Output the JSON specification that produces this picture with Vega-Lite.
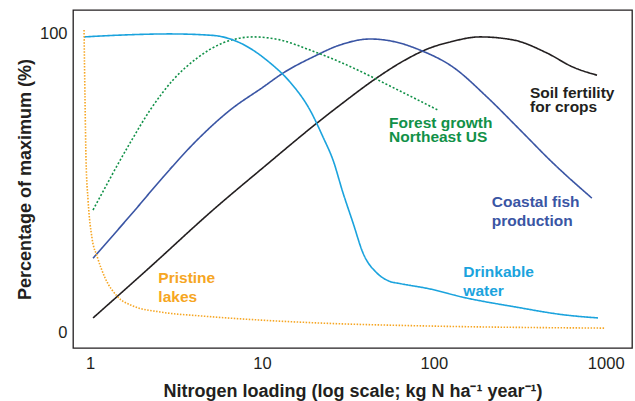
{
  "$schema": "https://vega.github.io/schema/vega-lite/v6.json",
  "width": 559,
  "height": 338,
  "autosize": "none",
  "padding": {"left": 73, "top": 10, "right": 3, "bottom": 53},
  "background": "white",
  "config": {
    "view": {"stroke": "#231f20", "strokeWidth": 1.3},
    "axis": {
      "domain": false, "ticks": false, "grid": false,
      "labelFont": "Liberation Sans", "labelFontSize": 16.5, "labelColor": "#231f20",
      "titleFont": "Liberation Sans", "titleFontSize": 18, "titleFontWeight": "bold", "titleColor": "#231f20"
    }
  },
  "datasets": {
    "curves": [
      {"series": "soil", "x": 1.041, "y": 4.7},
      {"series": "soil", "x": 2.234, "y": 21.7},
      {"series": "soil", "x": 5.19, "y": 40.8},
      {"series": "soil", "x": 10.42, "y": 55.5},
      {"series": "soil", "x": 20.92, "y": 69.9},
      {"series": "soil", "x": 28.47, "y": 75.9},
      {"series": "soil", "x": 47.4, "y": 85.3},
      {"series": "soil", "x": 63.6, "y": 90.0},
      {"series": "soil", "x": 95.0, "y": 95.0},
      {"series": "soil", "x": 124.3, "y": 97.0},
      {"series": "soil", "x": 185.7, "y": 98.7},
      {"series": "soil", "x": 288.8, "y": 97.7},
      {"series": "soil", "x": 455.5, "y": 93.3},
      {"series": "soil", "x": 645.3, "y": 88.6},
      {"series": "soil", "x": 890.0, "y": 85.9},

      {"series": "fish", "x": 1.041, "y": 24.7},
      {"series": "fish", "x": 1.827, "y": 40.8},
      {"series": "fish", "x": 2.659, "y": 51.8},
      {"series": "fish", "x": 4.194, "y": 64.2},
      {"series": "fish", "x": 6.52, "y": 74.2},
      {"series": "fish", "x": 10.15, "y": 81.9},
      {"series": "fish", "x": 13.27, "y": 86.6},
      {"series": "fish", "x": 19.83, "y": 92.0},
      {"series": "fish", "x": 28.47, "y": 96.0},
      {"series": "fish", "x": 42.6, "y": 98.0},
      {"series": "fish", "x": 60.0, "y": 97.0},
      {"series": "fish", "x": 83.1, "y": 94.3},
      {"series": "fish", "x": 129.3, "y": 88.6},
      {"series": "fish", "x": 203.9, "y": 78.6},
      {"series": "fish", "x": 317.3, "y": 67.6},
      {"series": "fish", "x": 493.7, "y": 56.5},
      {"series": "fish", "x": 830.0, "y": 44.8},

      {"series": "forest", "x": 1.041, "y": 40.8},
      {"series": "forest", "x": 1.708, "y": 63.2},
      {"series": "forest", "x": 2.234, "y": 74.2},
      {"series": "forest", "x": 3.04, "y": 84.3},
      {"series": "forest", "x": 4.194, "y": 91.6},
      {"series": "forest", "x": 5.94, "y": 96.7},
      {"series": "forest", "x": 8.88, "y": 98.7},
      {"series": "forest", "x": 12.74, "y": 97.7},
      {"series": "forest", "x": 19.05, "y": 94.3},
      {"series": "forest", "x": 28.47, "y": 90.3},
      {"series": "forest", "x": 63.6, "y": 80.6},
      {"series": "forest", "x": 105.8, "y": 74.2},

      {"series": "water", "x": 0.923, "y": 98.7},
      {"series": "water", "x": 1.494, "y": 99.3},
      {"series": "water", "x": 2.92, "y": 99.7},
      {"series": "water", "x": 5.19, "y": 99.2},
      {"series": "water", "x": 7.46, "y": 96.7},
      {"series": "water", "x": 11.15, "y": 90.0},
      {"series": "water", "x": 14.57, "y": 83.6},
      {"series": "water", "x": 19.05, "y": 74.2},
      {"series": "water", "x": 22.67, "y": 65.2},
      {"series": "water", "x": 25.92, "y": 57.5},
      {"series": "water", "x": 29.64, "y": 46.5},
      {"series": "water", "x": 33.88, "y": 36.5},
      {"series": "water", "x": 38.74, "y": 26.4},
      {"series": "water", "x": 46.73, "y": 19.7},
      {"series": "water", "x": 55.63, "y": 16.9},
      {"series": "water", "x": 63.6, "y": 16.2},
      {"series": "water", "x": 95.0, "y": 14.4},
      {"series": "water", "x": 145.9, "y": 11.7},
      {"series": "water", "x": 296.5, "y": 8.4},
      {"series": "water", "x": 579.9, "y": 5.7},
      {"series": "water", "x": 901.6, "y": 4.7},

      {"series": "lakes", "x": 0.923, "y": 101.0},
      {"series": "lakes", "x": 0.935, "y": 77.6},
      {"series": "lakes", "x": 0.948, "y": 57.5},
      {"series": "lakes", "x": 0.974, "y": 44.1},
      {"series": "lakes", "x": 1.027, "y": 31.4},
      {"series": "lakes", "x": 1.098, "y": 25.4},
      {"series": "lakes", "x": 1.223, "y": 18.1},
      {"series": "lakes", "x": 1.436, "y": 12.0},
      {"series": "lakes", "x": 1.778, "y": 8.7},
      {"series": "lakes", "x": 2.554, "y": 6.7},
      {"series": "lakes", "x": 4.363, "y": 5.4},
      {"series": "lakes", "x": 9.75, "y": 4.0},
      {"series": "lakes", "x": 21.78, "y": 3.0},
      {"series": "lakes", "x": 95.0, "y": 2.0},
      {"series": "lakes", "x": 990.9, "y": 1.3}
    ],
    "labels": [
      {"series": "soil", "x": 362.7, "y": 78.4, "text": "Soil fertility"},
      {"series": "soil", "x": 362.7, "y": 73.6, "text": "for crops"},
      {"series": "forest", "x": 54.9, "y": 68.2, "text": "Forest growth"},
      {"series": "forest", "x": 54.9, "y": 63.4, "text": "Northeast US"},
      {"series": "fish", "x": 217.2, "y": 41.8, "text": "Coastal fish"},
      {"series": "fish", "x": 217.2, "y": 35.5, "text": "production"},
      {"series": "water", "x": 148.5, "y": 18.4, "text": "Drinkable"},
      {"series": "water", "x": 148.5, "y": 12.0, "text": "water"},
      {"series": "lakes", "x": 2.497, "y": 16.4, "text": "Pristine"},
      {"series": "lakes", "x": 2.497, "y": 10.0, "text": "lakes"}
    ]
  },
  "layer": [
    {
      "data": {"name": "curves"},
      "mark": {"type": "line", "interpolate": "monotone"},
      "encoding": {
        "x": {
          "field": "x", "type": "quantitative",
          "scale": {"type": "log", "domain": [0.796, 1422], "nice": false},
          "axis": {"values": [1, 10, 100, 1000], "format": "d", "labelPadding": 7, "titlePadding": 11,
                   "title": "Nitrogen loading (log scale; kg N ha⁻¹ year⁻¹)"}
        },
        "y": {
          "field": "y", "type": "quantitative",
          "scale": {"domain": [-5.35, 107.7], "nice": false, "zero": false},
          "axis": {"values": [0, 100], "format": "d", "labelPadding": 6, "titlePadding": 5,
                   "title": "Percentage of maximum (%)"}
        },
        "color": {
          "field": "series", "type": "nominal", "legend": null,
          "scale": {"domain": ["soil", "fish", "forest", "water", "lakes"],
                    "range": ["#231f20", "#3a55a4", "#119148", "#1ba3dd", "#f6a623"]}
        },
        "strokeDash": {
          "field": "series", "type": "nominal", "legend": null,
          "scale": {"domain": ["soil", "fish", "forest", "water", "lakes"],
                    "range": [[1, 0], [1, 0], [2, 2], [1, 0], [1.5, 1.5]]}
        },
        "strokeWidth": {
          "field": "series", "type": "nominal", "legend": null,
          "scale": {"domain": ["soil", "fish", "forest", "water", "lakes"],
                    "range": [1.6, 1.6, 2, 2, 1.5]}
        }
      }
    },
    {
      "data": {"name": "labels"},
      "mark": {"type": "text", "align": "left", "baseline": "alphabetic",
               "font": "Liberation Sans", "fontWeight": "bold", "fontSize": 15.5},
      "encoding": {
        "x": {"field": "x", "type": "quantitative"},
        "y": {"field": "y", "type": "quantitative"},
        "text": {"field": "text"},
        "color": {"field": "series", "type": "nominal", "legend": null}
      }
    }
  ]
}
